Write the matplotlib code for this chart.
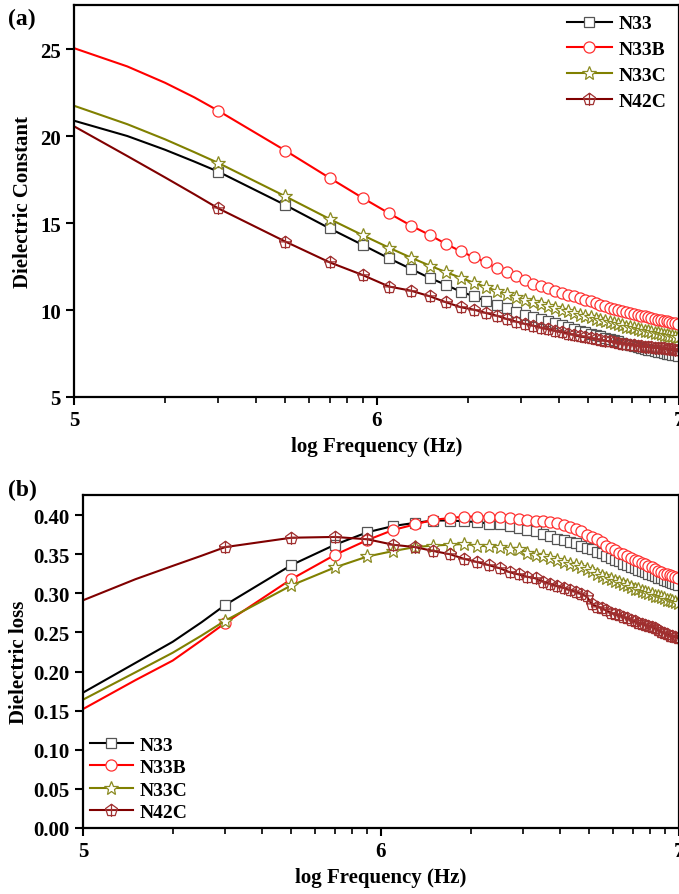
import numpy as np
import matplotlib
matplotlib.use("Agg")
import matplotlib.pyplot as plt
from matplotlib.path import Path
from matplotlib.ticker import FixedLocator, FixedFormatter, LogLocator, NullFormatter

plt.rcParams['font.family'] = ['Liberation Serif', 'DejaVu Serif']
plt.rcParams['font.weight'] = 'bold'
plt.rcParams['axes.labelweight'] = 'bold'

# Frequency grid (MHz)
freq_mhz = [0.1, 0.15, 0.2, 0.25, 0.3, 0.5, 0.7, 0.9, 1.1, 1.3, 1.5, 1.7, 1.9, 2.1, 2.3, 2.5,
            2.7, 2.9, 3.1, 3.3, 3.5, 3.7, 3.9, 4.1, 4.3, 4.5, 4.7, 4.9, 5.1, 5.3, 5.5,
            5.7, 5.9, 6.1, 6.3, 6.5, 6.7, 6.9, 7.1, 7.3, 7.5, 7.7, 7.9, 8.1, 8.3, 8.5,
            8.7, 8.9, 9.1, 9.3, 9.5, 9.7, 9.9, 10.0]

labels = ["N33", "N33B", "N33C", "N42C"]

# (a) Dielectric constant
eps_N33 = [20.88, 20.0, 19.21, 18.53, 17.95, 16.03, 14.69, 13.74, 12.97, 12.36, 11.84, 11.44, 11.05,
           10.79, 10.52, 10.29, 10.10, 9.87, 9.71, 9.60, 9.47, 9.35, 9.23, 9.12, 9.02, 8.92,
           8.82, 8.73, 8.64, 8.56, 8.48, 8.40, 8.33, 8.26, 8.19, 8.12, 8.06, 8.00, 7.94,
           7.89, 7.83, 7.78, 7.73, 7.69, 7.64, 7.60, 7.56, 7.52, 7.49, 7.46, 7.43, 7.40,
           7.37, 7.36]
eps_N33B = [25.05, 24.0, 23.06, 22.22, 21.45, 19.16, 17.59, 16.44, 15.56, 14.85, 14.31, 13.79, 13.37,
            13.03, 12.74, 12.40, 12.17, 11.94, 11.72, 11.52, 11.38, 11.24, 11.12, 11.00, 10.89,
            10.78, 10.68, 10.58, 10.49, 10.40, 10.31, 10.23, 10.14, 10.06, 10.00, 9.94, 9.88,
            9.83, 9.78, 9.73, 9.68, 9.63, 9.58, 9.53, 9.49, 9.45, 9.41, 9.37, 9.34, 9.30,
            9.27, 9.24, 9.21, 9.20]
eps_N33C = [21.74, 20.68, 19.81, 19.07, 18.45, 16.53, 15.23, 14.30, 13.58, 13.01, 12.55, 12.17, 11.85,
            11.56, 11.32, 11.09, 10.90, 10.73, 10.58, 10.45, 10.33, 10.22, 10.11, 10.01, 9.92,
            9.83, 9.74, 9.66, 9.58, 9.50, 9.43, 9.36, 9.29, 9.23, 9.17, 9.11, 9.05, 9.00,
            8.95, 8.90, 8.85, 8.81, 8.77, 8.73, 8.69, 8.65, 8.62, 8.58, 8.55, 8.52, 8.49,
            8.46, 8.43, 8.42]
eps_N42C = [20.56, 18.85, 17.62, 16.65, 15.84, 13.93, 12.74, 12.01, 11.35, 11.11, 10.79, 10.44, 10.16,
            10.02, 9.83, 9.67, 9.48, 9.33, 9.20, 9.10, 8.99, 8.89, 8.80, 8.72, 8.64, 8.57,
            8.50, 8.44, 8.38, 8.33, 8.28, 8.23, 8.19, 8.15, 8.11, 8.07, 8.04, 8.01, 7.98,
            7.95, 7.92, 7.90, 7.88, 7.86, 7.84, 7.82, 7.80, 7.79, 7.77, 7.76, 7.74, 7.73,
            7.72, 7.71]

# (b) Dielectric loss
loss_N33 = [0.173, 0.211, 0.238, 0.263, 0.285, 0.336, 0.362, 0.378, 0.386, 0.390, 0.393, 0.393, 0.392,
            0.391, 0.389, 0.388, 0.386, 0.384, 0.381, 0.379, 0.376, 0.373, 0.370, 0.368, 0.366,
            0.364, 0.361, 0.358, 0.356, 0.353, 0.351, 0.348, 0.345, 0.343, 0.341, 0.338, 0.336,
            0.334, 0.332, 0.330, 0.328, 0.327, 0.325, 0.323, 0.322, 0.320, 0.319, 0.317, 0.316,
            0.315, 0.313, 0.312, 0.311, 0.310]
loss_N33B = [0.152, 0.189, 0.214, 0.240, 0.262, 0.318, 0.349, 0.368, 0.381, 0.388, 0.394, 0.396, 0.398,
             0.398, 0.398, 0.397, 0.396, 0.395, 0.394, 0.393, 0.392, 0.391, 0.390, 0.387, 0.385,
             0.382, 0.379, 0.375, 0.372, 0.369, 0.365, 0.361, 0.358, 0.355, 0.352, 0.350, 0.348,
             0.345, 0.343, 0.341, 0.339, 0.337, 0.335, 0.333, 0.331, 0.329, 0.327, 0.325, 0.324,
             0.323, 0.322, 0.321, 0.320, 0.320]
loss_N33C = [0.164, 0.199, 0.224, 0.246, 0.265, 0.310, 0.333, 0.347, 0.354, 0.359, 0.361, 0.362, 0.363,
             0.361, 0.360, 0.359, 0.357, 0.356, 0.352, 0.349, 0.347, 0.345, 0.342, 0.340, 0.338,
             0.336, 0.334, 0.331, 0.328, 0.325, 0.322, 0.320, 0.318, 0.316, 0.314, 0.312, 0.310,
             0.308, 0.306, 0.305, 0.303, 0.302, 0.300, 0.299, 0.297, 0.296, 0.295, 0.294, 0.292,
             0.291, 0.290, 0.289, 0.288, 0.288]
loss_N42C = [0.291, 0.318, 0.335, 0.348, 0.359, 0.371, 0.372, 0.369, 0.362, 0.359, 0.354, 0.350, 0.344,
             0.340, 0.336, 0.332, 0.327, 0.324, 0.321, 0.319, 0.315, 0.312, 0.309, 0.307, 0.304,
             0.302, 0.299, 0.296, 0.286, 0.283, 0.281, 0.278, 0.275, 0.273, 0.272, 0.270, 0.268,
             0.266, 0.264, 0.262, 0.261, 0.259, 0.258, 0.257, 0.255, 0.253, 0.251, 0.249, 0.248,
             0.246, 0.245, 0.244, 0.243, 0.242]

xtick_vals = [1e5, 1e6, 1e7]
xtick_labels = ["5", "6", "7"]

freq = np.array(freq_mhz) * 1e6

# custom marker: pentagon with cross
pent = Path.unit_regular_polygon(5)
cross_v = Path([[0, -1], [0, 1]], [Path.MOVETO, Path.LINETO])
cross_h = Path([[-0.95, 0.1], [0.95, 0.1]], [Path.MOVETO, Path.LINETO])
pent_cross = Path.make_compound_path(pent, cross_v, cross_h)

colors = ["black", "#ff0000", "#808000", "#800000"]
edge_colors = ["#555555", "#ff3030", "#8a8a20", "#a03030"]
markers = ["s", "o", "*", pent_cross]
msizes = [7, 8, 10, 9]
faces = ["white", "white", "white", "none"]

mark_idx = list(range(4, len(freq_mhz) - 1))

fig = plt.figure(figsize=(6.79, 8.95), dpi=100)
ax1 = fig.add_axes([74 / 679, 1 - 398 / 895, (679 - 74) / 679, (398 - 6) / 895])
ax2 = fig.add_axes([83 / 679, 1 - 829 / 895, (679 - 83) / 679, (829 - 496) / 895])

for ax, series in ((ax1, [eps_N33, eps_N33B, eps_N33C, eps_N42C]),
                   (ax2, [loss_N33, loss_N33B, loss_N33C, loss_N42C])):
    for i, y in enumerate(series):
        ax.plot(freq, y, color=colors[i], lw=1.5, marker=markers[i], ms=msizes[i],
                mfc=faces[i], mec=edge_colors[i], mew=0.9, markevery=mark_idx,
                label=labels[i])
    ax.set_xscale('log')
    ax.set_xlim(1e5, 1e7)
    ax.xaxis.set_major_locator(FixedLocator(xtick_vals))
    ax.xaxis.set_major_formatter(FixedFormatter(xtick_labels))
    ax.xaxis.set_minor_locator(LogLocator(base=10, subs=np.arange(2, 10)))
    ax.xaxis.set_minor_formatter(NullFormatter())
    ax.tick_params(axis='both', which='major', direction='out', length=6, width=1.5,
                   labelsize=15, top=False, right=False)
    ax.tick_params(axis='both', which='minor', direction='out', length=4, width=1.2,
                   top=False, right=False)
    for sp in ax.spines.values():
        sp.set_linewidth(1.6)
    ax.set_xlabel("log Frequency (Hz)", fontsize=15, fontweight='bold', labelpad=4)

ax1.set_ylim(5, 27.53)
ax1.set_yticks([5, 10, 15, 20, 25])
ax1.set_ylabel("Dielectric Constant", fontsize=15, fontweight='bold', labelpad=5)
ax1.legend(loc='upper right', frameon=False, fontsize=14, handlelength=2.3,
           labelspacing=0.42, handletextpad=0.35, borderaxespad=0.1,
           bbox_to_anchor=(0.995, 1.0))

ax2.set_ylim(0, 0.4256)
ax2.set_yticks([0.0, 0.05, 0.10, 0.15, 0.20, 0.25, 0.30, 0.35, 0.40])
ax2.set_yticklabels(["0.00", "0.05", "0.10", "0.15", "0.20", "0.25", "0.30", "0.35", "0.40"])
ax2.set_ylabel("Dielectric loss", fontsize=15, fontweight='bold', labelpad=3)
ax2.legend(loc='lower left', frameon=False, fontsize=14, handlelength=2.2,
           labelspacing=0.25, handletextpad=0.35, borderaxespad=0.0, borderpad=0.35)

for ax in (ax1, ax2):
    for lab in ax.get_xticklabels() + ax.get_yticklabels():
        lab.set_fontweight('bold')

fig.text(8 / 679, 1 - 19 / 895, "(a)", fontsize=17, fontweight='bold', va='center', ha='left')
fig.text(8 / 679, 1 - 490 / 895, "(b)", fontsize=17, fontweight='bold', va='center', ha='left')

fig.savefig("out.png", dpi=100)
